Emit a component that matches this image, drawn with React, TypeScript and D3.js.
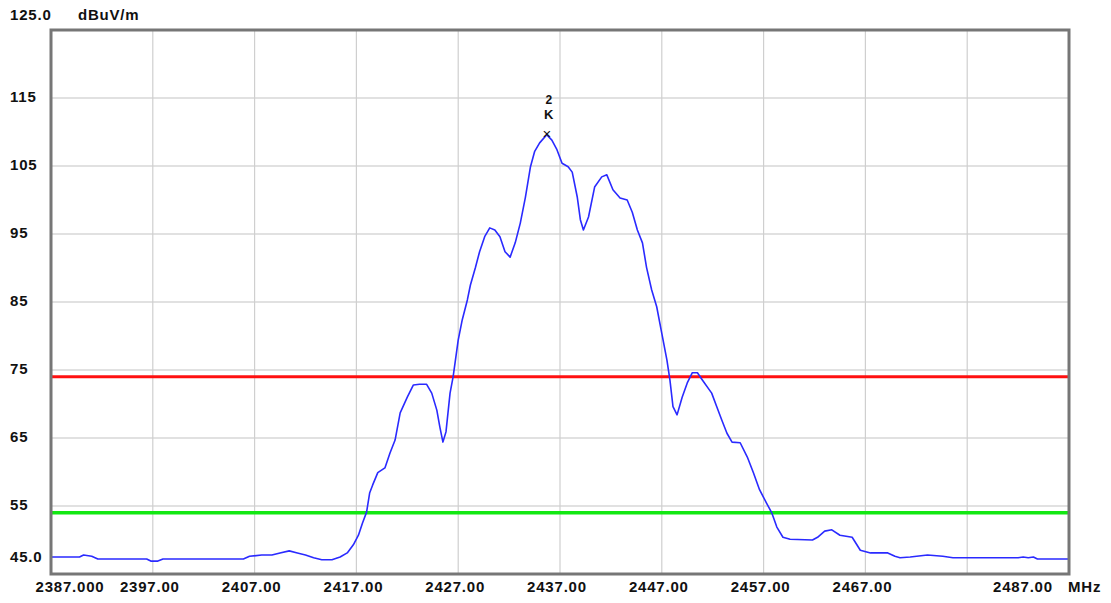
import * as d3 from "d3";

// spectrum trace (MHz, dBuV/m)
const freqMHz = [
  2387.0, 2388.1, 2389.8, 2390.2, 2391.0, 2391.6, 2396.4, 2396.8, 2397.5, 2398.0,
  2405.9, 2406.5, 2407.7, 2408.7, 2409.5, 2410.4, 2411.2, 2412.0, 2412.8, 2413.6,
  2414.6, 2415.4, 2416.1, 2416.7, 2417.2, 2417.6, 2418.0, 2418.3, 2418.6, 2419.1,
  2419.8, 2420.3, 2420.8, 2421.3, 2422.0, 2422.6, 2423.2, 2423.9, 2424.4, 2424.9,
  2425.2, 2425.5, 2425.8, 2426.2, 2426.5, 2427.0, 2427.4, 2427.9, 2428.2, 2428.7,
  2429.1, 2429.6, 2430.1, 2430.6, 2431.1, 2431.6, 2432.1, 2432.6, 2433.1, 2433.6,
  2434.1, 2434.5, 2435.0, 2435.7, 2436.2, 2436.7, 2437.2, 2437.8, 2438.2, 2438.7,
  2439.0, 2439.3, 2439.8, 2440.4, 2441.1, 2441.6, 2442.2, 2442.9, 2443.6, 2444.1,
  2444.6, 2445.1, 2445.5, 2446.0, 2446.5, 2447.0, 2447.5, 2447.8, 2448.1, 2448.5,
  2449.0, 2449.5, 2450.0, 2450.5, 2451.0, 2451.9, 2452.4, 2452.9, 2453.4, 2453.9,
  2454.7, 2455.4, 2456.0, 2456.6, 2457.3, 2457.8, 2458.3, 2458.9, 2459.6, 2461.8,
  2462.3, 2463.0, 2463.7, 2464.5, 2465.7, 2466.5, 2467.5, 2469.2, 2469.9, 2470.4,
  2471.4, 2473.1, 2474.6, 2475.6, 2482.0, 2482.5, 2483.0, 2483.5, 2483.9, 2487.0,
];
const levelDb = [
  47.5, 47.5, 47.5, 47.8, 47.6, 47.2, 47.2, 46.9, 46.9, 47.2,
  47.2, 47.6, 47.8, 47.8, 48.1, 48.4, 48.1, 47.8, 47.4, 47.1,
  47.1, 47.5, 48.1, 49.3, 50.7, 52.5, 54.1, 56.9, 58.1, 59.9,
  60.6, 62.8, 64.7, 68.7, 71.0, 72.8, 72.9, 72.9, 71.6, 69.1,
  66.6, 64.4, 65.9, 71.6, 74.0, 79.4, 82.4, 85.3, 87.5, 90.1,
  92.4, 94.6, 95.9, 95.6, 94.6, 92.4, 91.6, 93.7, 96.6, 100.4,
  104.9, 107.1, 108.4, 109.6, 108.8, 107.4, 105.4, 104.9, 104.1, 100.4,
  97.1, 95.6, 97.5, 101.9, 103.4, 103.7, 101.5, 100.3, 100.0, 98.2,
  95.6, 93.7, 90.1, 86.8, 84.3, 80.4, 76.5, 73.5, 69.6, 68.4,
  71.0, 73.1, 74.6, 74.6, 73.5, 71.6, 69.6, 67.6, 65.7, 64.4,
  64.3, 62.2, 59.9, 57.4, 55.4, 54.0, 51.9, 50.4, 50.1, 50.0,
  50.4, 51.3, 51.5, 50.7, 50.4, 48.5, 48.1, 48.1, 47.6, 47.4,
  47.5, 47.8, 47.6, 47.4, 47.4, 47.5, 47.4, 47.5, 47.2, 47.2,
];

const yTicks = [125, 115, 105, 95, 85, 75, 65, 55, 45];
const yTickLabels = ["125.0", "115", "105", "95", "85", "75", "65", "55", "45.0"];
const xTicks = [2387, 2397, 2407, 2417, 2427, 2437, 2447, 2457, 2467, 2487];
const xTickLabels = ["2387.000", "2397.00", "2407.00", "2417.00", "2427.00", "2437.00", "2447.00", "2457.00", "2467.00", "2487.00"];
const xGrid = [2397, 2407, 2417, 2427, 2437, 2447, 2457, 2467, 2477];
const peakLimit = 74;
const avgLimit = 54;
const markerIndex = 63;

const W = 1111, H = 603;
const left = 51, right = 1069, top = 30, bottom = 574;
const font = "'Liberation Sans', Arial, sans-serif";

export default function App() {
  const x = d3.scaleLinear().domain([2387, 2487]).range([left, right]);
  const y = d3.scaleLinear().domain([45, 125]).range([bottom, top]);

  const pts: [number, number][] = freqMHz.map((f, i) => [f, levelDb[i]]);
  const trace = d3.line<[number, number]>()
    .x(d => x(d[0]))
    .y(d => y(d[1]))(pts);

  const mx = x(freqMHz[markerIndex]);
  const my = y(levelDb[markerIndex]);

  return (
    <svg width={W} height={H} style={{ position: "absolute", left: 0, top: 0, background: "#fff" }}>
      {/* grid */}
      {yTicks.slice(1, -1).map(v => (
        <line key={"h" + v} x1={left} x2={right} y1={y(v)} y2={y(v)} stroke="#c4c4c4" strokeWidth={1.2} />
      ))}
      {xGrid.map(v => (
        <line key={"v" + v} x1={x(v)} x2={x(v)} y1={top} y2={bottom} stroke="#cfcfcf" strokeWidth={1.2} />
      ))}

      {/* limits */}
      <line x1={left} x2={right} y1={y(peakLimit)} y2={y(peakLimit)} stroke="#ff1010" strokeWidth={3} />
      <line x1={left} x2={right} y1={y(avgLimit)} y2={y(avgLimit)} stroke="#12e812" strokeWidth={3.5} />

      {/* trace */}
      <path d={trace ?? ""} fill="none" stroke="#2a2aff" strokeWidth={1.6} strokeLinejoin="round" />

      {/* marker */}
      <g fontFamily={font} fontWeight="bold" fill="#111" textAnchor="middle">
        <text x={mx + 2} y={my - 31} fontSize={12}>2</text>
        <text x={mx + 2} y={my - 16} fontSize={13}>K</text>
        <text x={mx} y={my + 4} fontSize={15} fontWeight="normal">×</text>
      </g>

      {/* frame */}
      <rect x={left} y={top} width={right - left} height={bottom - top} fill="none" stroke="#767676" strokeWidth={3} />

      {/* y labels */}
      <g fontFamily={font} fontWeight="bold" fontSize={15} fill="#111" letterSpacing={0.8}>
        {yTicks.map((v, i) => {
          let yy = y(v) - 2;
          if (i === 0) yy = top - 16;
          if (i === yTicks.length - 1) yy = bottom - 18;
          return (
            <text key={"yl" + v} x={10} y={yy} dominantBaseline="central">{yTickLabels[i]}</text>
          );
        })}
        <text x={78} y={top - 16} dominantBaseline="central">dBuV/m</text>
      </g>

      {/* x labels */}
      <g fontFamily={font} fontWeight="bold" fontSize={15} fill="#111" letterSpacing={0.8} textAnchor="middle">
        {xTicks.map((v, i) => {
          let cx = x(v) - 3;
          if (i === 0) cx = x(v) + 19;
          if (i === xTicks.length - 1) cx = x(v) - 46;
          return (
            <text key={"xl" + v} x={cx} y={586} dominantBaseline="central">{xTickLabels[i]}</text>
          );
        })}
        <text x={1068} y={586} dominantBaseline="central" textAnchor="start">MHz</text>
      </g>
    </svg>
  );
}
